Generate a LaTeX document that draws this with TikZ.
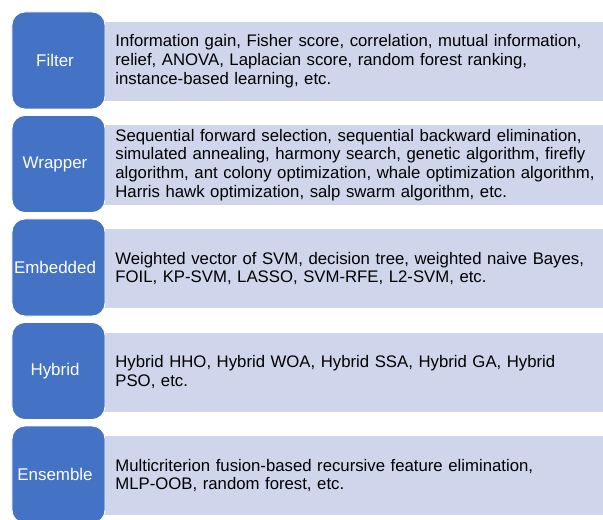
\documentclass[tikz,border=0pt]{standalone}
\usepackage{fontspec}
\setmainfont{Liberation Sans}
\definecolor{catblue}{HTML}{4472C4}
\definecolor{itemfill}{HTML}{CFD5EA}

\begin{document}
\begin{tikzpicture}[x=1bp,y=-1bp,
  catbox/.style={fill=catblue, draw=white, line width=0.8bp, rounded corners=13bp,
    minimum width=93bp, minimum height=97bp, inner sep=0pt},
  cattext/.style={text=white, inner sep=0pt, font=\fontsize{17}{20}\selectfont},
  itembox/.style={fill=itemfill, draw=white, line width=0.8bp, anchor=north west,
    minimum height=80bp, text width=492bp, inner xsep=15bp, inner ysep=0pt,
    align=left, font=\fontsize{16.8}{18.8}\selectfont}]
\clip (0,0) rectangle (603,520);
\useasboundingbox (0,0) rectangle (603,520);

% item panels (drawn first, the category tabs overlap their left edge)
\node[itembox] (filterItems) at (100,21)
  {Information gain, Fisher score, correlation, mutual information,\\
   relief, ANOVA, Laplacian score, random forest ranking,\\
   instance-based learning, etc.};
\node[itembox] (wrapperItems) at (100,124.5)
  {Sequential forward selection, sequential backward elimination,\\
   simulated annealing, harmony search, genetic algorithm, firefly\\
   algorithm, ant colony optimization, whale optimization algorithm,\\
   Harris hawk optimization, salp swarm algorithm, etc.};
\node[itembox] (embeddedItems) at (100,228)
  {Weighted vector of SVM, decision tree, weighted naive Bayes,\\
   FOIL, KP-SVM, LASSO, SVM-RFE, L2-SVM, etc.};
\node[itembox] (hybridItems) at (100,331.5)
  {Hybrid HHO, Hybrid WOA, Hybrid SSA, Hybrid GA, Hybrid\\
   PSO, etc.};
\node[itembox] (ensembleItems) at (100,435)
  {Multicriterion fusion-based recursive feature elimination,\\
   MLP-OOB, random forest, etc.};

% category tabs
\node[catbox] (filter)   at (58.5,60.5)  {};
\node[catbox] (wrapper)  at (58.5,164)   {};
\node[catbox] (embedded) at (58.5,267.5) {};
\node[catbox] (hybrid)   at (58.5,371)   {};
\node[catbox] (ensemble) at (58.5,474.5) {};

% tab captions, set a little left of centre
\node[cattext] (filterLabel)   at ([xshift=-3.5bp]filter.center)   {Filter};
\node[cattext] (wrapperLabel)  at ([xshift=-3.5bp]wrapper.center)  {Wrapper};
\node[cattext] (embeddedLabel) at ([xshift=-3.5bp]embedded.center) {Embedded};
\node[cattext] (hybridLabel)   at ([xshift=-3.5bp]hybrid.center)   {Hybrid};
\node[cattext] (ensembleLabel) at ([xshift=-3.5bp]ensemble.center) {Ensemble};
\end{tikzpicture}
\end{document}
